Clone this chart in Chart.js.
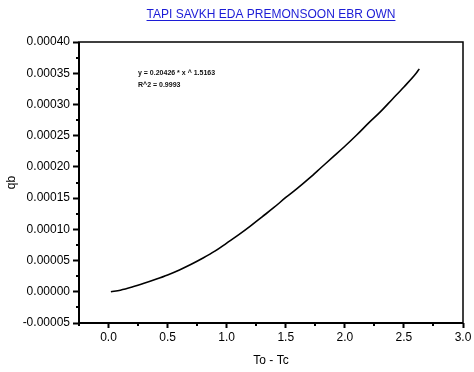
<!DOCTYPE html>
<html>
<head>
<meta charset="utf-8">
<script src="https://cdn.jsdelivr.net/npm/chart.js@4.4.1/dist/chart.umd.min.js"></script>
<style>
html,body{margin:0;padding:0;background:#fff;}
#wrap{width:474px;height:372px;position:relative;}
</style>
</head>
<body>
<div id="wrap"><canvas id="c" width="474" height="372"></canvas></div>
<script>
// ---- data ----
const xValues = [0.02,0.1,0.2,0.3,0.4,0.5,0.6,0.7,0.8,0.9,1.0,1.1,1.2,1.3,1.4,1.5,1.6,1.7,1.8,1.9,2.0,2.1,2.2,2.3,2.4,2.5,2.6,2.63];
const qbValues = [0.0,0.0000025,0.0000075,0.0000135,0.000020,0.000027,0.000035,0.000044,0.000054,0.000065,0.000078,0.000091,0.000105,0.000120,0.000135,0.000151,0.000166,0.000182,0.000199,0.000216,0.000233,0.000251,0.000270,0.000288,0.000308,0.000328,0.000349,0.000357];
const xTicks = [0.0,0.5,1.0,1.5,2.0,2.5,3.0];
const xMinorTicks = [-0.25,0.25,0.75,1.25,1.75,2.25,2.75];
const yTicks = [-0.00005,0,0.00005,0.0001,0.00015,0.0002,0.00025,0.0003,0.00035,0.0004];
const yMinorTicks = [-0.000025,0.000025,0.000075,0.000125,0.000175,0.000225,0.000275,0.000325,0.000375];
const chartTitle = "TAPI SAVKH EDA PREMONSOON EBR OWN";
const xTitle = "To - Tc";
const yTitle = "qb";
const fitLines = ["y = 0.20426 * x ^ 1.5163", "R^2 = 0.9993"];

const FONT = "'Liberation Sans', Arial, sans-serif";

const decor = {
  id: 'decor',
  afterDraw(chart) {
    const ctx = chart.ctx;
    const a = chart.chartArea;
    const xs = chart.scales.x, ys = chart.scales.y;
    ctx.save();
    // frame
    ctx.strokeStyle = '#000';
    ctx.lineWidth = 1.5;
    ctx.strokeRect(a.left, a.top, a.right - a.left, a.bottom - a.top);
    ctx.lineWidth = 2;
    ctx.beginPath();
    ctx.moveTo(a.left, a.top); ctx.lineTo(a.left, a.bottom); ctx.lineTo(a.right, a.bottom);
    ctx.stroke();
    // minor ticks
    ctx.lineWidth = 2;
    ctx.beginPath();
    xMinorTicks.forEach(v => {
      const p = Math.round(xs.getPixelForValue(v));
      ctx.moveTo(p, a.bottom); ctx.lineTo(p, a.bottom + 3);
    });
    yMinorTicks.forEach(v => {
      const p = Math.round(ys.getPixelForValue(v));
      ctx.moveTo(a.left, p); ctx.lineTo(a.left - 3, p);
    });
    ctx.stroke();
    // title (underlined, centered on plot area)
    ctx.font = "12px " + FONT;
    ctx.fillStyle = '#1c1cd6';
    ctx.textAlign = 'center';
    ctx.textBaseline = 'alphabetic';
    const cx = (a.left + a.right) / 2;
    ctx.fillText(chartTitle, cx, 18);
    const w = ctx.measureText(chartTitle).width;
    ctx.strokeStyle = '#1c1cd6';
    ctx.lineWidth = 1;
    ctx.beginPath();
    ctx.moveTo(cx - w / 2, 20.5); ctx.lineTo(cx + w / 2, 20.5);
    ctx.stroke();
    // fit annotation
    ctx.font = "bold 7px " + FONT;
    ctx.fillStyle = '#111';
    ctx.textAlign = 'left';
    ctx.textBaseline = 'middle';
    ctx.fillText(fitLines[0], a.left + 59, a.top + 31);
    ctx.fillText(fitLines[1], a.left + 59, a.top + 43);
    ctx.restore();
  }
};

new Chart(document.getElementById('c'), {
  type: 'line',
  data: {
    datasets: [{
      data: xValues.map((x, i) => ({x: x, y: qbValues[i]})),
      borderColor: '#000',
      borderWidth: 1.6,
      pointRadius: 0,
      fill: false,
      cubicInterpolationMode: 'monotone'
    }]
  },
  options: {
    responsive: false,
    animation: false,
    devicePixelRatio: 1,
    layout: { padding: { top: 42, right: 11, left: 0, bottom: 0 } },
    plugins: { legend: { display: false }, tooltip: { enabled: false }, title: { display: false } },
    scales: {
      x: {
        type: 'linear',
        min: -0.25, max: 3.0,
        afterBuildTicks: s => { s.ticks = xTicks.map(v => ({value: v})); },
        afterFit: s => { s.height = 49; },
        border: { display: false },
        grid: { display: true, drawOnChartArea: false, drawTicks: true, tickLength: 5, tickColor: '#000', tickWidth: 2 },
        ticks: { color: '#000', font: { family: FONT, size: 12 }, padding: 2, maxRotation: 0, callback: v => Number(v).toFixed(1) },
        title: { display: true, text: xTitle, color: '#000', font: { family: FONT, size: 12 }, padding: { top: 4, bottom: 4 } }
      },
      y: {
        type: 'linear',
        min: -0.00005, max: 0.0004,
        afterBuildTicks: s => { s.ticks = yTicks.map(v => ({value: v})); },
        afterFit: s => { s.width = 79; },
        border: { display: false },
        grid: { display: true, drawOnChartArea: false, drawTicks: true, tickLength: 6, tickColor: '#000', tickWidth: 2 },
        ticks: { color: '#000', font: { family: FONT, size: 12 }, padding: 3, callback: v => Number(v).toFixed(5) },
        title: { display: true, text: yTitle, color: '#000', font: { family: FONT, size: 12 }, padding: { top: 4, bottom: 4 } }
      }
    }
  },
  plugins: [decor]
});
</script>
</body>
</html>
